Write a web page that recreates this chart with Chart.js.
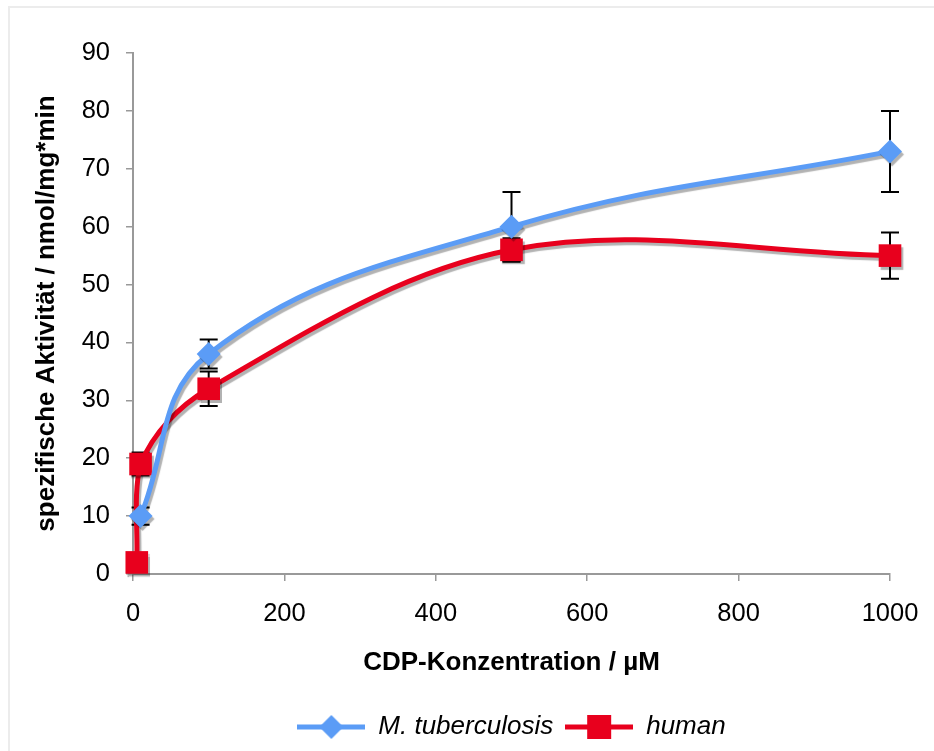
<!DOCTYPE html>
<html>
<head>
<meta charset="utf-8">
<script src="https://cdn.jsdelivr.net/npm/chart.js@4/dist/chart.umd.min.js"></script>
<style>
  html, body { margin: 0; padding: 0; background: #fff; }
  #wrap { width: 934px; height: 751px; }
</style>
</head>
<body>
<div id="wrap"><canvas id="chart" width="934" height="751"></canvas></div>
<script>
// values
const mtbX = [10, 100, 500, 1000];
const mtbY = [10, 38, 60, 73];
const mtbErr = [1.5, 2.5, 6, 7];

const humanX = [5, 10, 100, 500, 1000];
const humanY = [2, 19, 32, 56, 55];
const humanErr = [0, 2, 3, 2, 4];

const xTitle = 'CDP-Konzentration / µM';
const yTitle = 'spezifische Aktivität / nmol/mg*min';

const BLUE = '#5b9cf6';
const RED = '#e8001d';
const FONT = '"Liberation Sans", Arial, Helvetica, sans-serif';

function pts(xs, ys) {
    return xs.map((x, i) => ({x: x, y: ys[i]}));
}

// little line+marker pictures for the legend
function legendIcon(color, shape) {
    let c = document.createElement('canvas');
    c.width = 68;
    c.height = 26;
    let g = c.getContext('2d');
    g.fillStyle = color;
    g.fillRect(0, 10.5, 68, 5);
    g.beginPath();
    if (shape === 'diamond') {
        g.moveTo(34, 1); g.lineTo(46, 13); g.lineTo(34, 25); g.lineTo(22, 13);
    } else {
        g.rect(22, 1, 24, 24);
    }
    g.closePath();
    g.fill();
    return c;
}

const errors = [mtbErr, humanErr];

const errorBars = {
    id: 'errorBars',
    beforeDatasetsDraw(chart) {
        let ctx = chart.ctx;
        let xs = chart.scales.x, ys = chart.scales.y;
        ctx.save();
        ctx.strokeStyle = '#000';
        ctx.lineWidth = 2;
        chart.data.datasets.forEach((ds, di) => {
            ds.data.forEach((p, i) => {
                let e = errors[di][i];
                if (!e) return;
                let px = xs.getPixelForValue(p.x);
                let top = ys.getPixelForValue(p.y + e);
                let bot = ys.getPixelForValue(p.y - e);
                ctx.beginPath();
                ctx.moveTo(px, top); ctx.lineTo(px, bot);
                ctx.moveTo(px - 9, top); ctx.lineTo(px + 9, top);
                ctx.moveTo(px - 9, bot); ctx.lineTo(px + 9, bot);
                ctx.stroke();
            });
        });
        ctx.restore();
    }
};

// gray drop shadow under lines and markers, like the original
const shadow = {
    id: 'shadow',
    beforeDatasetDraw(chart) {
        let ctx = chart.ctx;
        ctx.save();
        ctx.shadowColor = 'rgba(0,0,0,0.3)';
        ctx.shadowOffsetX = 2;
        ctx.shadowOffsetY = 3;
        ctx.shadowBlur = 1;
    },
    afterDatasetDraw(chart) {
        chart.ctx.restore();
    }
};

const frame = {
    id: 'frame',
    beforeDraw(chart) {
        let ctx = chart.ctx;
        ctx.save();
        ctx.strokeStyle = '#ececec';
        ctx.lineWidth = 2;
        ctx.strokeRect(9, 7, 1000, 1000);
        ctx.restore();
    }
};

new Chart(document.getElementById('chart'), {
    type: 'line',
    data: {
        datasets: [
            {
                label: 'M. tuberculosis',
                data: pts(mtbX, mtbY),
                borderColor: BLUE,
                backgroundColor: BLUE,
                borderWidth: 5,
                pointStyle: 'rectRot',
                pointRadius: 12,
                pointBorderWidth: 0,
                tension: 0.4,
                clip: false,
                icon: legendIcon(BLUE, 'diamond')
            },
            {
                label: 'human',
                data: pts(humanX, humanY),
                borderColor: RED,
                backgroundColor: RED,
                borderWidth: 5,
                pointStyle: 'rect',
                pointRadius: 16,
                pointBorderWidth: 0,
                tension: 0.35,
                clip: false,
                icon: legendIcon(RED, 'square')
            }
        ]
    },
    options: {
        responsive: false,
        animation: false,
        layout: { padding: { left: 0, right: 44, top: 53, bottom: 1 } },
        scales: {
            x: {
                type: 'linear',
                min: 0,
                max: 1000,
                afterFit: s => { s.height = 128; s.paddingLeft = 0; s.paddingRight = 0; },
                ticks: {
                    stepSize: 200, color: '#000', padding: 18,
                    font: { family: FONT, size: 25.5 },
                    callback: v => String(v)
                },
                grid: { drawOnChartArea: false, tickLength: 7, color: '#999', lineWidth: 1.5 },
                border: { color: '#999', width: 2 },
                title: {
                    display: true, text: xTitle, color: '#000',
                    padding: { top: 0, bottom: 24 },
                    font: { family: FONT, size: 26, weight: 'bold' }
                }
            },
            y: {
                min: 0,
                max: 90,
                afterFit: s => { s.width = 133; },
                ticks: { stepSize: 10, color: '#000', padding: 16, font: { family: FONT, size: 25.5 } },
                grid: { drawOnChartArea: false, tickLength: 7, color: '#999', lineWidth: 1.5 },
                border: { color: '#999', width: 2 },
                title: {
                    display: true, text: yTitle, color: '#000',
                    padding: { top: 31, bottom: 0 },
                    font: { family: FONT, size: 26, weight: 'bold' }
                }
            }
        },
        plugins: {
            tooltip: { enabled: false },
            legend: {
                position: 'bottom',
                fullSize: false,
                labels: {
                    usePointStyle: true,
                    pointStyleWidth: 68,
                    padding: 12,
                    color: '#000',
                    font: { family: FONT, size: 26, style: 'italic' },
                    generateLabels: chart => chart.data.datasets.map((ds, i) => ({
                        text: ds.label,
                        pointStyle: ds.icon,
                        fillStyle: ds.borderColor,
                        strokeStyle: ds.borderColor,
                        lineWidth: 0,
                        fontColor: '#000',
                        hidden: false,
                        datasetIndex: i
                    }))
                }
            }
        }
    },
    plugins: [frame, errorBars, shadow]
});
</script>
</body>
</html>
